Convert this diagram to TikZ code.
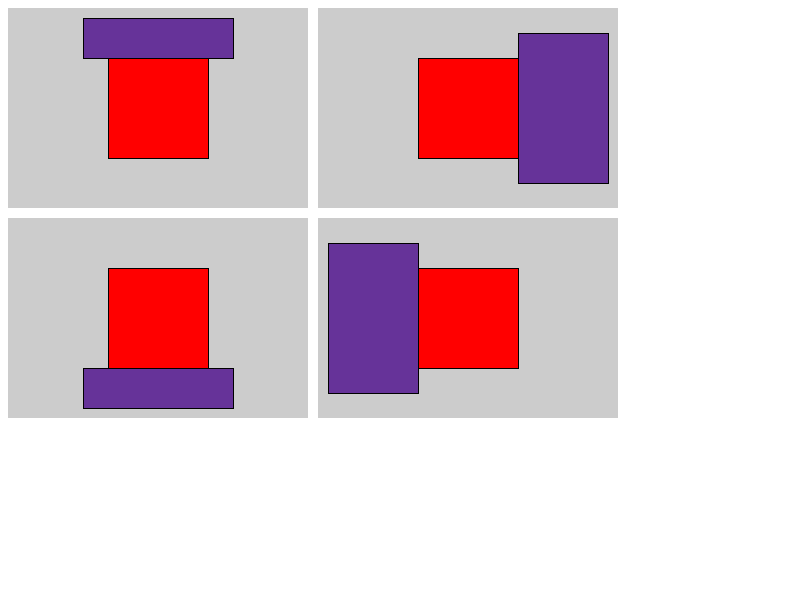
\documentclass[tikz,border=0pt]{standalone}
\usetikzlibrary{positioning}
\definecolor{panelgrey}{HTML}{CCCCCC}
\definecolor{rebpurple}{HTML}{663399}
\tikzset{
    panel/.style={fill=panelgrey,draw=none},
    redbox/.style={fill=red,draw=black,line width=0.75pt},
    purplebox/.style={fill=rebpurple,draw=black,line width=0.75pt}
}
\begin{document}
\begin{tikzpicture}[x=0.75pt,y=-0.75pt]
    \useasboundingbox (0,0) rectangle (800,600);
    % grey panels
    \foreach \px/\py in {8/8,318/8,8/218,318/218} {\fill[panelgrey] (\px,\py) rectangle ++(300,200);}

    % top left: bar above
    \draw[redbox] (108,58) rectangle (208,158);
    \draw[purplebox] (83,18) rectangle (233,58);

    % top right: bar to the right
    \draw[redbox] (418,58) rectangle (518,158);
    \draw[purplebox] (518,33) rectangle (608,183);

    % bottom left: bar below
    \draw[redbox] (108,268) rectangle (208,368);
    \draw[purplebox] (83,368) rectangle (233,408);

    % bottom right: bar to the left
    \draw[redbox] (418,268) rectangle (518,368);
    \draw[purplebox] (328,243) rectangle (418,393);
\end{tikzpicture}
\end{document}
